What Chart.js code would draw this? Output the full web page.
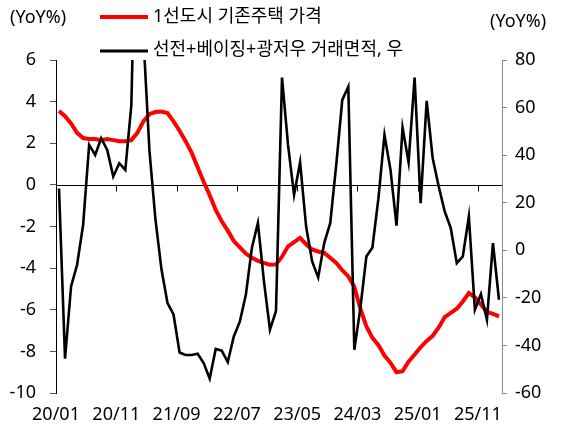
<!DOCTYPE html>
<html><head><meta charset="utf-8">
<script src="https://cdn.jsdelivr.net/npm/chart.js@4/dist/chart.umd.min.js"></script>
<style>html,body{margin:0;padding:0;background:#fff;}#wrap{width:561px;height:432px;position:relative;}</style>
</head><body><div id="wrap"><canvas id="c"></canvas></div>
<script>
const categories = [
"20/01","20/02","20/03","20/04","20/05","20/06","20/07","20/08","20/09","20/10","20/11","20/12",
"21/01","21/02","21/03","21/04","21/05","21/06","21/07","21/08","21/09","21/10","21/11","21/12",
"22/01","22/02","22/03","22/04","22/05","22/06","22/07","22/08","22/09","22/10","22/11","22/12",
"23/01","23/02","23/03","23/04","23/05","23/06","23/07","23/08","23/09","23/10","23/11","23/12",
"24/01","24/02","24/03","24/04","24/05","24/06","24/07","24/08","24/09","24/10","24/11","24/12",
"25/01","25/02","25/03","25/04","25/05","25/06","25/07","25/08","25/09","25/10","25/11","25/12",
"26/01","26/02"];
const tickLabels = ["20/01","20/11","21/09","22/07","23/05","24/03","25/01","25/11"];
const seriesNames = ["1선도시 기존주택 가격", "선전+베이징+광저우 거래면적, 우"];
const priceYoY = [
3.55,3.3,2.95,2.5,2.25,2.2,2.2,2.15,2.2,2.15,2.1,2.1,
2.15,2.5,3.05,3.4,3.5,3.52,3.45,3.05,2.6,2.1,1.55,0.85,
0.15,-0.5,-1.2,-1.75,-2.2,-2.7,-3.0,-3.3,-3.5,-3.65,-3.75,-3.84,
-3.82,-3.45,-2.95,-2.75,-2.55,-2.85,-3.1,-3.2,-3.27,-3.5,-3.75,-4.1,
-4.4,-4.9,-5.95,-6.8,-7.35,-7.7,-8.2,-8.55,-9.0,-8.95,-8.5,-8.15,
-7.8,-7.5,-7.25,-6.85,-6.35,-6.15,-5.95,-5.6,-5.2,-5.4,-5.75,-6.1,
-6.2,-6.32];
const areaYoY = [
26,-45.6,-15.2,-6.1,10.7,44.3,40.1,47.1,42.2,31,36.6,33.8,
61,170,90,42,13,-8,-22.2,-27,-43,-44,-44,-43.5,
-47.4,-54,-41.5,-42.2,-47,-36.2,-30,-18.7,1,11.5,-13,-33.4,
-25.5,72.6,44.3,23.3,37,10,-4.7,-11.4,3,11.4,36,63.2,
68.8,-41.8,-24.3,-2.6,1.2,21.9,48.5,33.8,10.4,51.6,37,72.6,
19.8,62.8,38.7,26.8,16.3,9.3,-5.4,-2.6,14.2,-25,-18.4,-29.2,
3,-20.8];
const leftRange = [-10, 6, 2];
const rightRange = [-60, 80, 20];
const axisTitle = "(YoY%)";

const FONT = "'Noto Sans', 'Noto Sans CJK KR', sans-serif";
const FS = 18;

const decor = {
  id: 'decor',
  beforeDatasetsDraw(chart) {
    const {ctx, chartArea, scales} = chart;
    const y0 = Math.round(scales.y.getPixelForValue(0)) + 0.5;
    ctx.save();
    ctx.strokeStyle = '#000';
    ctx.lineWidth = 1;
    ctx.beginPath();
    ctx.moveTo(chartArea.left, y0);
    ctx.lineTo(chartArea.right, y0);
    const xs = scales.x;
    for (let m = 10; m < categories.length; m += 10) {
      const x = Math.round((xs.getPixelForValue(m - 1) + xs.getPixelForValue(m)) / 2) + 0.5;
      ctx.moveTo(x, y0);
      ctx.lineTo(x, y0 + 6);
    }
    ctx.stroke();
    ctx.restore();
  },
  afterDraw(chart) {
    const {ctx} = chart;
    const ds = chart.data.datasets;
    ctx.save();
    ctx.font = FS + 'px ' + FONT;
    ctx.fillStyle = '#000';
    ctx.textBaseline = 'middle';
    ctx.textAlign = 'left';
    ctx.fillText(axisTitle, 10, 18);
    ctx.fillText(axisTitle, 490, 22);
    ctx.lineCap = 'butt';
    ctx.strokeStyle = ds[0].borderColor; ctx.lineWidth = 4;
    ctx.beginPath(); ctx.moveTo(100, 17); ctx.lineTo(148, 17); ctx.stroke();
    ctx.fillText(ds[0].label, 153, 17);
    ctx.strokeStyle = ds[1].borderColor; ctx.lineWidth = 3;
    ctx.beginPath(); ctx.moveTo(100, 51); ctx.lineTo(148, 51); ctx.stroke();
    ctx.fillText(ds[1].label, 153, 50);
    ctx.restore();
  }
};

new Chart(document.getElementById('c'), {
  type: 'line',
  data: {
    labels: categories,
    datasets: [
      {label: seriesNames[0], data: priceYoY, yAxisID: 'y', borderColor: '#ff0000', borderWidth: 4, pointRadius: 0, tension: 0, order: 1},
      {label: seriesNames[1], data: areaYoY, yAxisID: 'y1', borderColor: '#000000', borderWidth: 2.6, pointRadius: 0, tension: 0, order: 0}
    ]
  },
  options: {
    responsive: true,
    maintainAspectRatio: false,
    animation: false,
    events: [],
    layout: {padding: {top: 60, left: 0, right: 0, bottom: 0}},
    plugins: {legend: {display: false}, tooltip: {enabled: false}, title: {display: false}},
    scales: {
      x: {
        type: 'category', offset: true,
        grid: {display: false, drawTicks: false},
        border: {display: false},
        ticks: {
          autoSkip: false, maxRotation: 0, minRotation: 0, padding: 11, labelOffset: -3,
          color: '#000', font: {family: FONT, size: FS},
          callback: function(v, i) { const l = categories[i]; return tickLabels.includes(l) ? l : ''; }
        },
        afterFit(s) { s.height = 39; }
      },
      y: {
        position: 'left', min: leftRange[0], max: leftRange[1],
        ticks: {stepSize: leftRange[2], padding: 14, color: '#000', font: {family: FONT, size: FS}},
        grid: {drawOnChartArea: false, tickLength: 6, color: '#555'},
        border: {color: '#000', width: 1},
        afterFit(s) { s.width = 56; }
      },
      y1: {
        position: 'right', min: rightRange[0], max: rightRange[1],
        ticks: {stepSize: rightRange[2], padding: 8, color: '#000', font: {family: FONT, size: FS}},
        grid: {drawOnChartArea: false, tickLength: 5, color: '#888'},
        border: {color: '#888', width: 1},
        afterFit(s) { s.width = 59; }
      }
    }
  },
  plugins: [decor]
});
</script></body></html>
